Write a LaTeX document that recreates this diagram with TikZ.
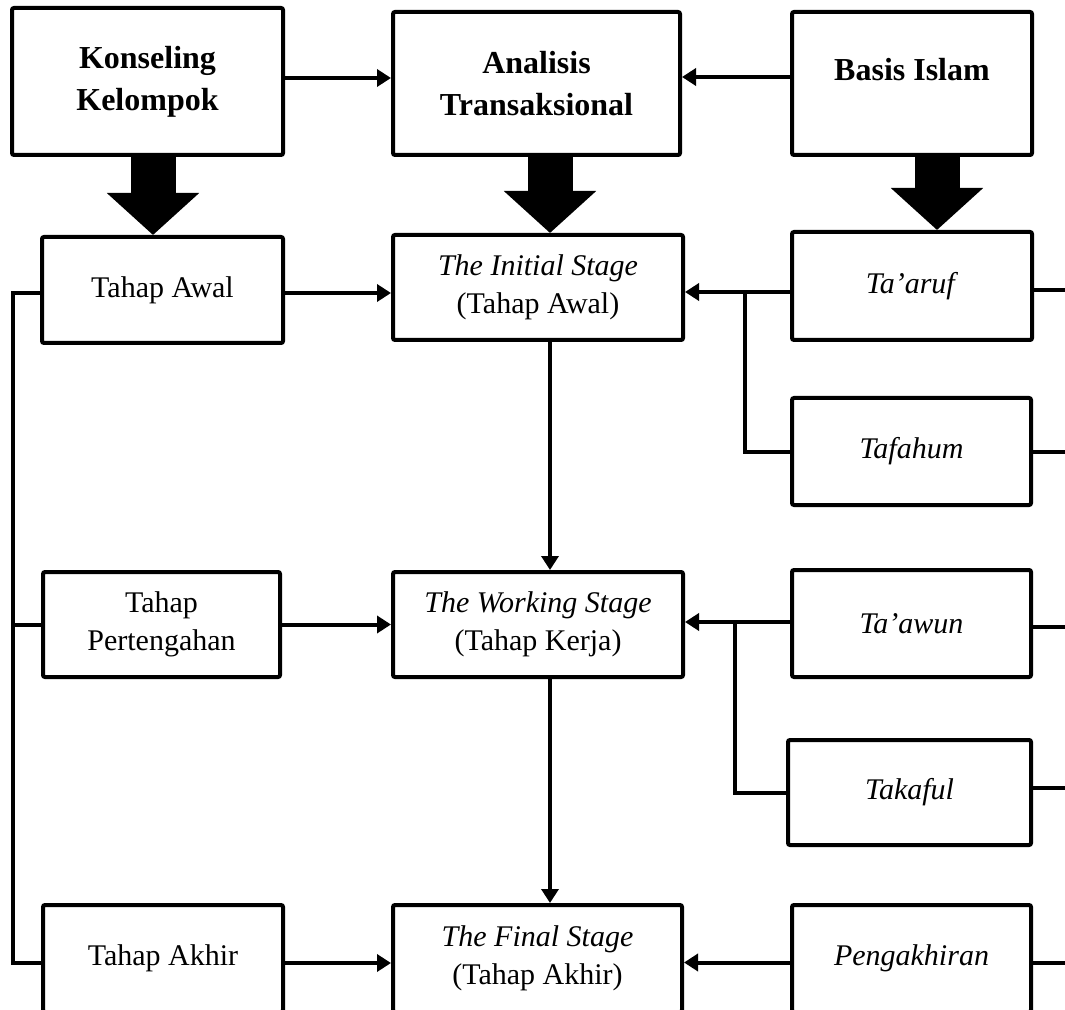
\documentclass[tikz,border=0pt]{standalone}
\usepackage{fontspec}
\setmainfont{Liberation Serif}
\usetikzlibrary{arrows.meta,calc}
\tikzset{
  box/.style={draw, line width=2pt, rounded corners=1pt, align=center, inner sep=0pt, font=\fontsize{15}{19}\selectfont},
  headbox/.style={box, font=\fontsize{16}{21}\selectfont\bfseries},
  link/.style={line width=2pt},
  arr/.style={link, -{Triangle[length=7pt,width=8.5pt]}},
  bigarr/.style={line width=22.5pt, -{Triangle[length=21pt,width=45pt]}}
}
\begin{document}
\begin{tikzpicture}[x=0.5pt,y=-0.5pt]
		\useasboundingbox (0,0) rectangle (1065,1010);
		\node[headbox, minimum width=135.5pt, minimum height=73.5pt] (KK) at (147.5,81.5) {Konseling\\Kelompok};
		\node[headbox, minimum width=143.5pt, minimum height=71.5pt] (AT) at (536.5,83.5) {Analisis\\Transaksional};
		\node[headbox, minimum width=120pt, minimum height=71.5pt, text depth=14pt] (BI) at (912,83.5) {Basis Islam};
		\node[box, minimum width=120.5pt, minimum height=53pt] (TA) at (162.5,290) {Tahap Awal};
		\node[box, minimum width=145pt, minimum height=52.5pt] (IS) at (538,287.5) {\textit{The Initial Stage}\\(Tahap Awal)};
		\node[box, minimum width=120pt, minimum height=54pt] (TR) at (912,286) {\textit{Ta’aruf}};
		\node[box, minimum width=119.5pt, minimum height=53.5pt] (TF) at (911.5,451.5) {\textit{Tafahum}};
		\node[box, minimum width=118.5pt, minimum height=52.5pt] (TP) at (161.5,624.5) {Tahap\\Pertengahan};
		\node[box, minimum width=145pt, minimum height=52.5pt] (WS) at (538,624.5) {\textit{The Working Stage}\\(Tahap Kerja)};
		\node[box, minimum width=119.5pt, minimum height=53.5pt] (TW) at (911.5,623.5) {\textit{Ta’awun}};
		\node[box, minimum width=121.5pt, minimum height=52.5pt] (TK) at (909.5,792.5) {\textit{Takaful}};
		\node[box, minimum width=120pt, minimum height=53.5pt] (TH) at (163,958.5) {Tahap Akhir};
		\node[box, minimum width=144.5pt, minimum height=53.5pt] (FS) at (537.5,958.5) {\textit{The Final Stage}\\(Tahap Akhir)};
		\node[box, minimum width=119.5pt, minimum height=53.5pt] (PG) at (911.5,958.5) {\textit{Pengakhiran}};
		\coordinate (J1) at (745,292);
		\coordinate (J2) at (735,622);
		\coordinate (L) at (13,963);
		\coordinate (R) at (1066,0);
		
		\draw[bigarr] ($(KK.south)+(2.75pt,0)$) -- ($(KK.south |- TA.north)+(2.75pt,0)$);
		\draw[bigarr] ($(AT.south)+(6.75pt,0)$) -- ($(AT.south |- IS.north)+(6.75pt,0)$);
		\draw[bigarr] ($(BI.south)+(12.5pt,0)$) -- ($(BI.south |- TR.north)+(12.5pt,0)$);
		\draw[arr] ([yshift=1.75pt]KK.east) -- ([yshift=1.75pt]KK.east -| AT.west);
		\draw[arr] ([yshift=3.25pt]BI.west) -- ([yshift=3.25pt]BI.west -| AT.east);
		\draw[arr] ([yshift=-1.5pt]TA.east) -- ([yshift=-1.5pt]TA.east -| IS.west);
		\draw[arr] (TR.west |- J1) -- (J1 -| IS.east);
		\draw[link] (TF.west) -| (J1);
		\draw[arr] (TP.east) -- (TP.east -| WS.west);
		\draw[arr] (TW.west |- J2) -- (J2 -| WS.east);
		\draw[link] (TK.west) -| (J2);
		\draw[arr] ([yshift=-2.25pt]TH.east) -- ([yshift=-2.25pt]TH.east -| FS.west);
		\draw[arr] ([yshift=-2pt]PG.west) -- ([yshift=-2pt]PG.west -| FS.east);
		\draw[arr] ([xshift=6pt]IS.south) -- ([xshift=6pt]IS.south |- WS.north);
		\draw[arr] ([xshift=6pt]WS.south) -- ([xshift=6pt]WS.south |- FS.north);
		\draw[link] ([yshift=-1.5pt]TA.west) -| (L) -- ([yshift=-2.25pt]TH.west);
		\draw[link] (TP.west) -- (TP.west -| L);
		\draw[link] ([yshift=-2pt]TR.east) -- ([yshift=-2pt]TR.east -| R);
		\draw[link] (TF.east) -- (TF.east -| R);
		\draw[link] ([yshift=-1.75pt]TW.east) -- ([yshift=-1.75pt]TW.east -| R);
		\draw[link] ([yshift=2.25pt]TK.east) -- ([yshift=2.25pt]TK.east -| R);
		\draw[link] ([yshift=-2.25pt]PG.east) -- ([yshift=-2.25pt]PG.east -| R);
\end{tikzpicture}
\end{document}
